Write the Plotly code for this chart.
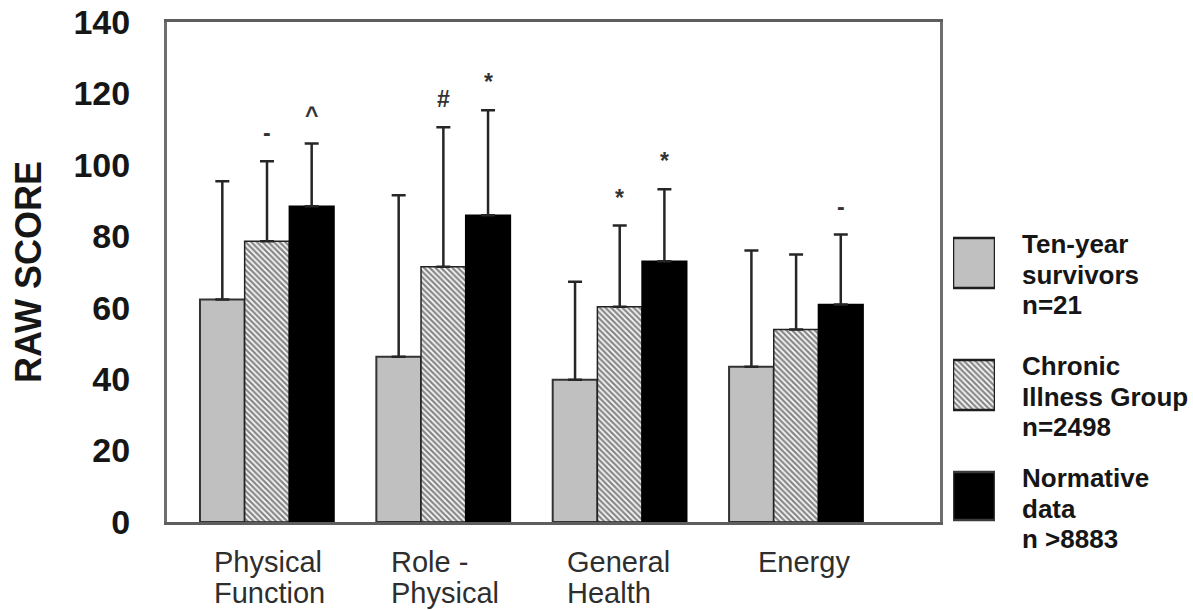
import plotly.graph_objects as go

# SF-36 subscale scores by group (mean and +1 SD)
categories = ["Physical Function", "Role - Physical", "General Health", "Energy"]
category_lines = [["Physical", "Function"], ["Role -", "Physical"], ["General", "Health"], ["Energy"]]

survivors_mean = [62.3, 46.3, 39.8, 43.5]
survivors_sd = [33.1, 45.2, 27.5, 32.5]
chronic_mean = [78.6, 71.5, 60.3, 53.9]
chronic_sd = [22.4, 39.0, 22.7, 21.0]
normative_mean = [88.4, 85.9, 73.0, 60.9]
normative_sd = [17.6, 29.4, 20.2, 19.6]

series_names = ["Ten-year survivors n=21", "Chronic Illness Group n=2498", "Normative data n >8883"]
legend_lines = [["Ten-year", "survivors", "n=21"],
                ["Chronic", "Illness Group", "n=2498"],
                ["Normative", "data", "n >8883"]]

# significance marks above the chronic-illness and normative bars
chronic_marks = ["-", "#", "*", ""]
normative_marks = ["^", "*", "*", "-"]

y_ticks = [0, 20, 40, 60, 80, 100, 120, 140]

FONT = "Liberation Sans, Arial, sans-serif"
INK = "#161616"
BARGAP = 0.24
BAR_W = (1 - BARGAP) / 3

# figure geometry (px)
W, H = 1193, 610
M_L, M_R, M_T, M_B = 167, 10, 22, 88
PLOT_W = W - M_L - M_R
PLOT_H = H - M_T - M_B
FRAME_RIGHT = 940


def paper_y(py):
    return (H - M_B - py) / PLOT_H


def paper_x(px):
    return (px - M_L) / PLOT_W


HATCH = dict(shape="\\", size=4, solidity=0.6, fgcolor="#111111", bgcolor="white")

fig = go.Figure()


def err(sd):
    return dict(type="data", array=sd, symmetric=False, arrayminus=[0] * len(sd),
                color="#262626", thickness=2.5, width=7)


fig.add_trace(go.Bar(
    x=categories, y=survivors_mean, name=series_names[0],
    marker=dict(color="#c0c0c0", line=dict(color="#333333", width=2)),
    error_y=err(survivors_sd), showlegend=False))
fig.add_trace(go.Bar(
    x=categories, y=chronic_mean, name=series_names[1],
    marker=dict(color="white", line=dict(color="#222222", width=1.5), pattern=HATCH),
    error_y=err(chronic_sd), showlegend=False))
fig.add_trace(go.Bar(
    x=categories, y=normative_mean, name=series_names[2],
    marker=dict(color="black", line=dict(color="black", width=1.5)),
    error_y=err(normative_sd), showlegend=False))

annotations = []
for i in range(len(categories)):
    for offset, mean, sd, marks in ((0.0, chronic_mean, chronic_sd, chronic_marks),
                                    (BAR_W, normative_mean, normative_sd, normative_marks)):
        if marks[i]:
            annotations.append(dict(
                x=i + offset, y=mean[i] + sd[i], xref="x", yref="y", text=marks[i],
                showarrow=False, yanchor="middle", yshift=28,
                font=dict(family=FONT, size=23, color="#333333", weight="bold")))
    # category label under the group, lines left aligned
    lines = category_lines[i]
    for j, line in enumerate(lines):
        if len(lines) > 1:
            pos = dict(x=i - 0.31, xanchor="left")
        else:
            pos = dict(x=i, xanchor="center", xshift=8)
        annotations.append(dict(
            y=paper_y(562 + 31 * j), xref="x", yref="paper", text=line,
            showarrow=False, yanchor="middle",
            font=dict(family=FONT, size=29, color="#2e2e2e"), **pos))

# legend: swatches drawn as bars on a small helper axis, labels as text lines
swatch_styles = [
    dict(color="#c0c0c0", line=dict(color="#1e1e1e", width=2.5)),
    dict(color="white", line=dict(color="#1e1e1e", width=2.5), pattern=HATCH),
    dict(color="black", line=dict(color="#3a3a3a", width=2.5)),
]
swatch_top = [238, 360, 472]
swatch_h = [50, 50, 48]
for k in range(3):
    fig.add_trace(go.Bar(
        x=[0], y=[swatch_h[k]], base=[swatch_top[k]], width=[1], offset=[0],
        marker=swatch_styles[k], xaxis="x2", yaxis="y2", cliponaxis=False,
        showlegend=False, hoverinfo="skip", name=series_names[k]))
    for j, line in enumerate(legend_lines[k]):
        annotations.append(dict(
            x=paper_x(1020), y=paper_y(swatch_top[k] + 6 + 30.5 * j), xref="paper", yref="paper",
            text=line, showarrow=False, xanchor="left", yanchor="middle",
            font=dict(family=FONT, size=26, color=INK, weight="bold")))

fig.update_layout(
    width=W, height=H,
    margin=dict(l=M_L, r=M_R, t=M_T, b=M_B),
    paper_bgcolor="white", plot_bgcolor="white",
    barmode="group", bargap=BARGAP, bargroupgap=0,
    showlegend=False,
    annotations=annotations,
    xaxis=dict(
        domain=[0, paper_x(FRAME_RIGHT)], range=[-0.567, 3.816], type="category",
        automargin=False,
        showticklabels=False, ticks="", showgrid=False, zeroline=False,
        showline=True, linecolor="#5e5e5e", linewidth=3, mirror=True),
    yaxis=dict(
        range=[0, 140], tickvals=y_ticks, ticks="", showgrid=False, zeroline=False,
        automargin=False,
        showline=True, linecolor="#6e6e6e", linewidth=3, mirror=True,
        ticklabelstandoff=27,
        tickfont=dict(family=FONT, size=34, color=INK, weight="bold"),
        title=dict(text="RAW SCORE", standoff=21,
                   font=dict(family=FONT, size=36, color=INK, weight="bold"))),
    xaxis2=dict(domain=[paper_x(953), paper_x(995)], range=[0, 1], visible=False, anchor="y2"),
    yaxis2=dict(domain=[0, 1], range=[H - M_B, M_T], visible=False, anchor="x2"),
)

fig.write_html("out.html")
